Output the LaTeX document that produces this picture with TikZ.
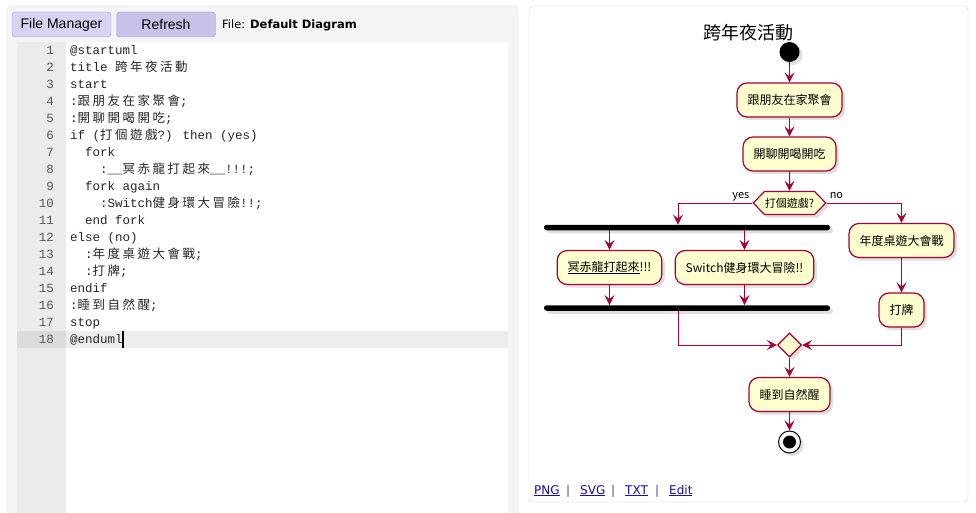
\documentclass[tikz,border=0pt]{standalone}
\usepackage{fontspec}
\usepackage{xcolor}
\usepackage{tikz}
\usetikzlibrary{arrows.meta,shapes.geometric,shapes.symbols,shadows,positioning,calc}
\setmainfont{Liberation Sans}
\newfontfamily\cjk{Noto Sans CJK TC}
\newfontfamily\mono{Liberation Mono}
\newfontfamily\cjkmono[LetterSpace=20]{Noto Sans CJK TC}
\newfontfamily\uifont{DejaVu Sans}
\definecolor{plred}{HTML}{A80036}
\definecolor{plbox}{HTML}{FEFECE}
\definecolor{btnA}{HTML}{D7D3F3}
\definecolor{btnB}{HTML}{C6C2E8}
\definecolor{btnEdge}{HTML}{A49FD7}
\definecolor{linkblue}{HTML}{1A0DAB}

\begin{document}
\begin{tikzpicture}[x=1pt,y=-1pt,
	every node/.style={inner sep=0pt},
	flow/.style={draw=plred,line width=1pt,-{Stealth[length=10pt,width=10pt,inset=4pt]}},
	shade/.style={drop shadow={shadow xshift=3pt,shadow yshift=-3pt,opacity=0.25}},
	act/.style={rectangle,rounded corners=10pt,draw=plred,line width=1.2pt,fill=plbox,
		minimum height=34pt,inner xsep=10.5pt,font=\cjk\fontsize{12}{14}\selectfont,shade},
	bar/.style={rectangle,fill=black,minimum width=286pt,minimum height=5.5pt,rounded corners=2.5pt,shade},
	btn/.style={rectangle,rounded corners=3pt,draw=btnEdge,minimum width=99pt,minimum height=25pt,
		font=\fontsize{14}{16}\selectfont},
	lbl/.style={font=\cjk\fontsize{11}{13}\selectfont},
	link/.style={font=\uifont\fontsize{12}{14}\selectfont,text=linkblue,anchor=base west},
	sep/.style={font=\uifont\fontsize{12}{14}\selectfont,text=black!70,anchor=base west}]
\useasboundingbox[fill=white] (0,0) rectangle (976,513);

% editor
\draw[fill=black!4,draw=black!15,rounded corners=4pt] (7,6) rectangle (518,530);
\node[btn,fill=btnA] (fm) at (61.5,24.5) {File Manager};
\node[btn,fill=btnB] (rf) at (166,24.5) {Refresh};
\node[anchor=west,font=\uifont\fontsize{11.5}{14}\selectfont] (file) at (222,25) {File: \textbf{Default Diagram}};
\fill[black!8] (17,42) rectangle (66,530);
\fill[white] (66,42) rectangle (508,530);
\fill[black!14] (17,331) rectangle (66,348);
\fill[black!7] (66,331) rectangle (508,348);
\foreach \n/\i/\txt in {1/0/{@startuml},2/0/{title {\cjkmono 跨年夜活動}},3/0/{start},
	4/0/{:{\cjkmono 跟朋友在家聚會};},5/0/{:{\cjkmono 開聊開喝開吃};},
	6/0/{if ({\cjkmono 打個遊戲}?) then (yes)},7/2/{fork},
	8/4/{:\_\_{\cjkmono 冥赤龍打起來}\_\_!!!;},9/2/{fork again},
	10/4/{:Switch{\cjkmono 健身環大冒險}!!;},11/2/{end fork},12/0/{else (no)},
	13/2/{:{\cjkmono 年度桌遊大會戰};},14/2/{:{\cjkmono 打牌};},15/0/{endif},
	16/0/{:{\cjkmono 睡到自然醒};},17/0/{stop},18/0/{@enduml}}{
	\node[anchor=base east,font=\mono\fontsize{12.5}{15}\selectfont,text=black!65] (num\n) at (54,{54.5+17*(\n-1)}) {\n};
	\node[anchor=base west,font=\mono\fontsize{12.5}{15}\selectfont,text=black!85] (code\n) at ({70+7.5*\i},{54.5+17*(\n-1)}) {\txt};
}
\draw[line width=1.5pt] (code18.east |- 0,331) -- (code18.east |- 0,348);

% diagram
\draw[fill=white,draw=black!18,rounded corners=4pt] (529,6) rectangle (968,502);
\node[font=\cjk\fontsize{18}{20}\selectfont] (ttl) at (748,33) {跨年夜活動};
\node[circle,fill=black,minimum size=20pt,shade] (start) at (789.5,52) {};
\node[act] (a1) at (789.5,100) {跟朋友在家聚會};
\node[act] (a2) at (789.5,154) {開聊開喝開吃};
\node[signal,signal to=west and east,signal pointer angle=92,draw=plred,line width=1.2pt,fill=plbox,
	minimum height=23pt,inner xsep=0.5pt,lbl,shade] (q) at (789.5,203) {打個遊戲?};
\node[lbl,anchor=base east] (yes) at ([shift={(-3,-5)}]q.west) {yes};
\node[lbl,anchor=base west] (no) at ([shift={(3,-5)}]q.east) {no};
\node[bar] (fk) at (687,227.5) {};
\node[act] (b1) at (609.5,267.5) {\underline{冥赤龍打起來}!!!};
\node[act] (b2) at (744.5,267.5) {Switch健身環大冒險!!};
\node[bar] (jn) at (687,308) {};
\node[act] (c1) at (901.5,240.5) {年度桌遊大會戰};
\node[act] (c2) at (901.5,310) {打牌};
\node[diamond,draw=plred,line width=1.2pt,fill=plbox,minimum width=24pt,minimum height=24pt,shade] (m) at (789.5,345) {};
\node[act] (d) at (789.5,394.5) {睡到自然醒};
\node[circle,draw=black,line width=1pt,fill=white,minimum size=22pt,shade,
	path picture={\fill[black] (path picture bounding box.center) circle (6.5pt);}] (stop) at (789.5,442) {};

\draw[flow] (start) -- (a1);
\draw[flow] (a1) -- (a2);
\draw[flow] (a2) -- (q);
\draw[flow] (q.west) -| ([xshift=-9pt]fk.north);
\draw[flow] (fk.south -| b1) -- (b1);
\draw[flow] (fk.south -| b2) -- (b2);
\draw[flow] (b1) -- (b1 |- jn.north);
\draw[flow] (b2) -- (b2 |- jn.north);
\draw[flow] ([xshift=-9pt]jn.south) |- (m.west);
\draw[flow] (q.east) -| (c1);
\draw[flow] (c1) -- (c2);
\draw[flow] (c2) |- (m.east);
\draw[flow] (m) -- (d);
\draw[flow] (d) -- (stop);

% links
\node[link] (png) at (534,494) {\underline{PNG}};
\node[sep] (s1) at (566,494) {|};
\node[link] (svg) at (580,494) {\underline{SVG}};
\node[sep] (s2) at (611,494) {|};
\node[link] (txt) at (625,494) {\underline{TXT}};
\node[sep] (s3) at (655,494) {|};
\node[link] (edit) at (669,494) {\underline{Edit}};
\end{tikzpicture}
\end{document}
